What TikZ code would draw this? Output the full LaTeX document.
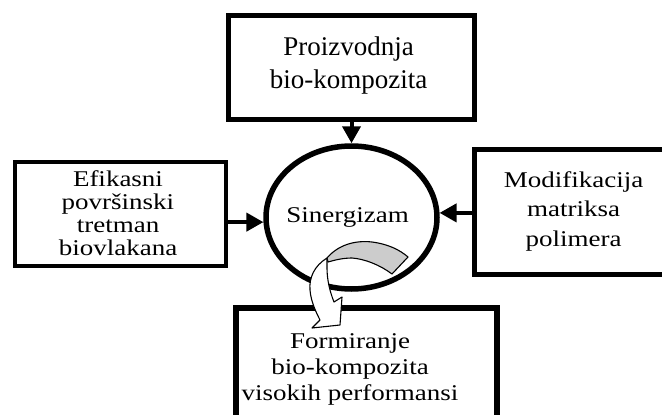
\documentclass[tikz,border=0pt]{standalone}
\usepackage{fontspec}
\setmainfont{Liberation Serif}
\usetikzlibrary{shapes.geometric,arrows.meta}

% centred lines of text, widened horizontally by #1
\newcommand\linestack[2]{\scalebox{#1}[1]{\begin{tabular}{@{}c@{}}#2\end{tabular}}}

\tikzset{
  box/.style={draw, line width=#1, rectangle, inner sep=0pt},
  box/.default=5pt,
  label text/.style={inner sep=0pt},
  arr/.style={line width=4pt, -{Triangle[length=17pt,width=18pt]}},
  ribbon/.style={draw, line width=1.1pt, line join=round},
}

\begin{document}
\begin{tikzpicture}[x=1pt,y=-1pt]
  \useasboundingbox (0,0) rectangle (662,415);

  % central ellipse
  \node[draw, ellipse, line width=5.5pt, minimum width=171pt, minimum height=143pt, inner sep=0pt]
    (syn) at (351.5,217.5) {};
  \node[label text, font=\fontsize{22.5}{27}\selectfont] (syntext) at (347.5,216.6)
    {\linestack{1.2}{Sinergizam}};

  % surrounding boxes
  \node[box, minimum width=246pt, minimum height=104pt] (top) at (351.5,67.5) {};
  \node[label text, font=\fontsize{27}{33}\selectfont] (toptext) at (348.5,64.9)
    {\linestack{1}{Proizvodnja\\bio-kompozita}};

  \node[box=4pt, minimum width=211pt, minimum height=104pt] (left) at (120.5,214) {};
  \node[label text, font=\fontsize{22.5}{22.7}\selectfont] (lefttext) at (118,216.5)
    {\linestack{1.2}{Efikasni\\površinski\\tretman\\biovlakana}};

  \node[box, minimum width=198pt, minimum height=125pt] (right) at (573.5,212) {};
  \node[label text, font=\fontsize{22.5}{29.5}\selectfont] (righttext) at (573.5,210.6)
    {\linestack{1.2}{Modifikacija\\matriksa\\polimera}};

  \node[box=6pt, minimum width=261pt, minimum height=122pt] (bottom) at (366.5,369) {};
  \node[label text, font=\fontsize{22.5}{26}\selectfont] (result) at (350,368.8)
    {\linestack{1.2}{Formiranje\\bio-kompozita\\visokih performansi}};

  % connectors into the ellipse
  \draw[arr] (top.south) -- (syn.north);
  \draw[arr] (left.east |- syn.183) -- (syn.183);
  \draw[arr] (right.west |- syn.3) -- (syn.3);

  % curved ribbon arrow: grey back side, then white front ending in the head
  \path[ribbon, fill=gray!40]
    (327,258) .. controls (338,245) and (355,240) .. (372,242)
    .. controls (388,244) and (400,250) .. (408,257)
    -- (392,274)
    .. controls (380,265) and (365,259) .. (352,258)
    .. controls (343,258) and (335,260) .. (328,262) -- cycle;
  \path[ribbon, fill=white]
    (327,258) .. controls (314,266) and (309,278) .. (310,290)
    .. controls (311,302) and (316,312) .. (320,320)
    -- (312,328) -- (340,325) -- (342,297) -- (334,302)
    .. controls (330,292) and (327,280) .. (327,268) -- cycle;
\end{tikzpicture}
\end{document}
